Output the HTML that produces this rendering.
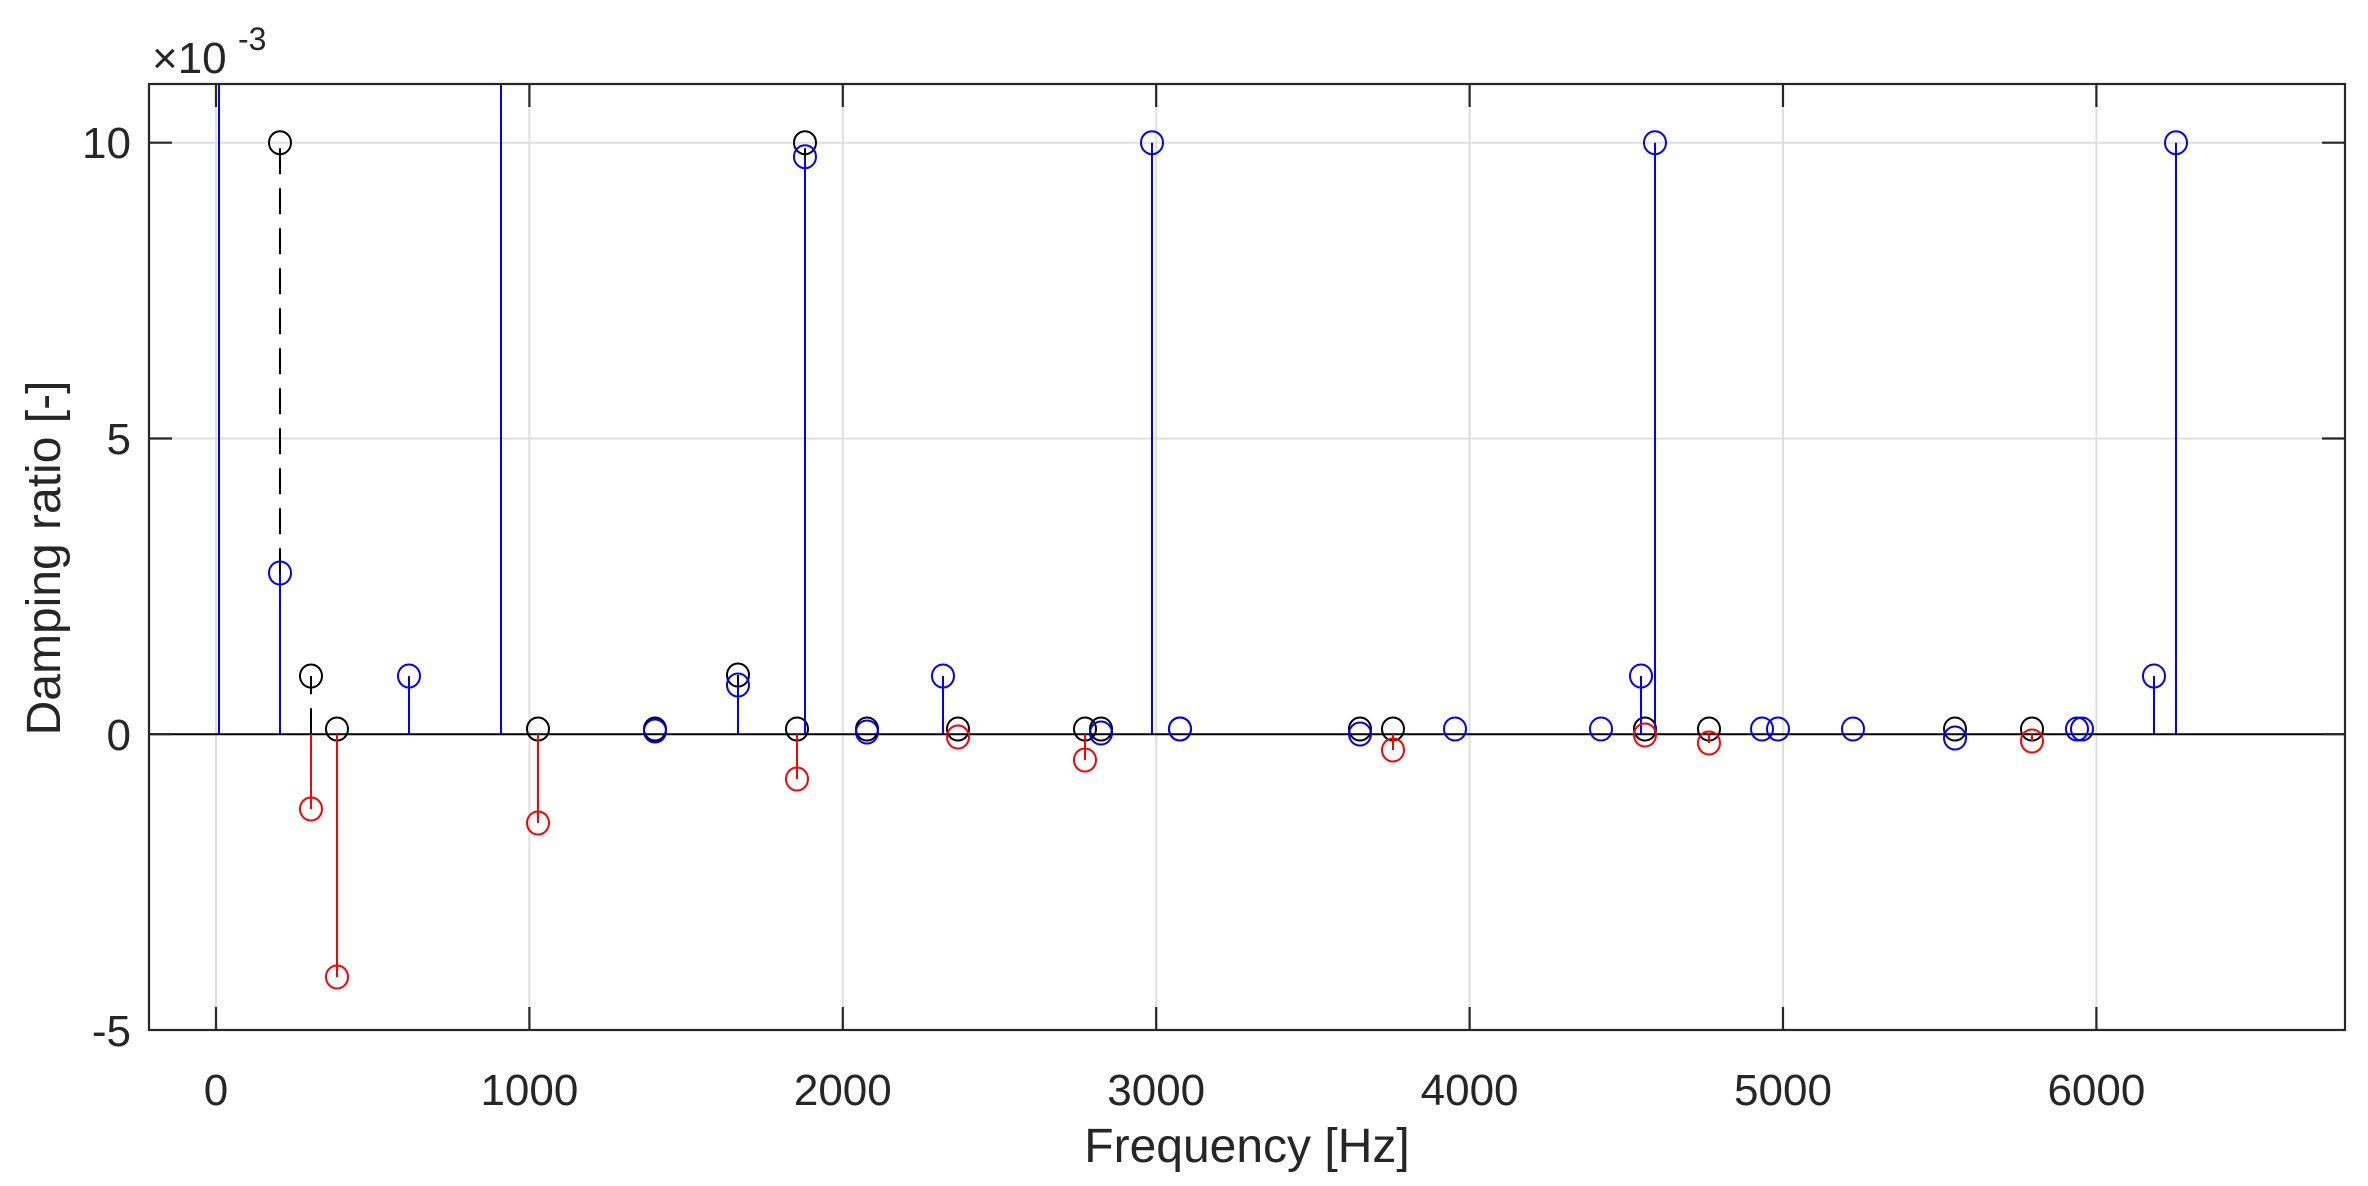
<!DOCTYPE html>
<html><head><meta charset="utf-8"><style>
html,body{margin:0;padding:0;background:#fff;}
svg{display:block;font-family:"Liberation Sans",Arial,sans-serif;}
</style></head><body>
<svg width="2368" height="1186" viewBox="0 0 2368 1186" xmlns="http://www.w3.org/2000/svg">
<defs><clipPath id="c"><rect x="149" y="84" width="2196" height="946"/></clipPath></defs>
<rect x="149" y="84" width="2196" height="946" fill="#fff"/>
<!-- grid -->
<g stroke="#dfdfdf" stroke-width="2">
<line x1="216" y1="84" x2="216" y2="1030"/><line x1="529.4" y1="84" x2="529.4" y2="1030"/>
<line x1="842.8" y1="84" x2="842.8" y2="1030"/><line x1="1156.2" y1="84" x2="1156.2" y2="1030"/>
<line x1="1469.6" y1="84" x2="1469.6" y2="1030"/><line x1="1783" y1="84" x2="1783" y2="1030"/>
<line x1="2096.4" y1="84" x2="2096.4" y2="1030"/>
<line x1="149" y1="142.7" x2="2345" y2="142.7"/><line x1="149" y1="438.5" x2="2345" y2="438.5"/>
</g>
<g clip-path="url(#c)" fill="none" stroke-width="2">
<!-- baseline -->
<line x1="149" y1="734.2" x2="2345" y2="734.2" stroke="#000"/>
<!-- black -->
<g stroke="#000">
<g stroke-dasharray="26 14">
<line x1="280" y1="734.2" x2="280" y2="142.7"/><line x1="311" y1="734.2" x2="311" y2="676"/>
<line x1="805" y1="734.2" x2="805" y2="142.7"/><line x1="738" y1="734.2" x2="738" y2="675"/>
</g>
<ellipse cx="280" cy="142.7" rx="11" ry="11.5"/><ellipse cx="311" cy="676" rx="11" ry="11.5"/>
<ellipse cx="337" cy="729" rx="11" ry="11.5"/><ellipse cx="538" cy="729" rx="11" ry="11.5"/>
<ellipse cx="655" cy="729" rx="11" ry="11.5"/><ellipse cx="738" cy="675" rx="11" ry="11.5"/>
<ellipse cx="797" cy="729" rx="11" ry="11.5"/><ellipse cx="805" cy="142.7" rx="11" ry="11.5"/>
<ellipse cx="867" cy="729" rx="11" ry="11.5"/><ellipse cx="958" cy="729" rx="11" ry="11.5"/>
<ellipse cx="1085" cy="729" rx="11" ry="11.5"/><ellipse cx="1101" cy="729" rx="11" ry="11.5"/>
<ellipse cx="1180" cy="729" rx="11" ry="11.5"/>
<ellipse cx="1360" cy="729" rx="11" ry="11.5"/><ellipse cx="1393" cy="729" rx="11" ry="11.5"/>
<ellipse cx="1645" cy="729" rx="11" ry="11.5"/><ellipse cx="1709" cy="729" rx="11" ry="11.5"/>
<ellipse cx="1955" cy="729" rx="11" ry="11.5"/><ellipse cx="2032" cy="729" rx="11" ry="11.5"/>
</g>
<!-- blue -->
<g stroke="#0000ff">
<line x1="219" y1="734.2" x2="219" y2="80"/><line x1="501" y1="734.2" x2="501" y2="80"/>
<line x1="280" y1="734.2" x2="280" y2="573"/><ellipse cx="280" cy="573" rx="11" ry="11.5"/>
<line x1="409" y1="734.2" x2="409" y2="676"/><ellipse cx="409" cy="676" rx="11" ry="11.5"/>
<ellipse cx="655" cy="731" rx="11" ry="11.5"/>
<line x1="738" y1="734.2" x2="738" y2="685"/><ellipse cx="738" cy="685" rx="11" ry="11.5"/>
<line x1="805" y1="734.2" x2="805" y2="156.7"/><ellipse cx="805" cy="156.7" rx="11" ry="11.5"/>
<ellipse cx="867" cy="732" rx="11" ry="11.5"/>
<line x1="943" y1="734.2" x2="943" y2="676"/><ellipse cx="943" cy="676" rx="11" ry="11.5"/>
<ellipse cx="1101" cy="733" rx="11" ry="11.5"/>
<line x1="1152" y1="734.2" x2="1152" y2="142.7"/><ellipse cx="1152" cy="142.7" rx="11" ry="11.5"/>
<ellipse cx="1180" cy="729" rx="11" ry="11.5"/><ellipse cx="1360" cy="734" rx="11" ry="11.5"/>
<ellipse cx="1455" cy="729" rx="11" ry="11.5"/><ellipse cx="1601" cy="729" rx="11" ry="11.5"/>
<line x1="1641" y1="734.2" x2="1641" y2="676"/><ellipse cx="1641" cy="676" rx="11" ry="11.5"/>
<line x1="1655" y1="734.2" x2="1655" y2="142.7"/><ellipse cx="1655" cy="142.7" rx="11" ry="11.5"/>
<ellipse cx="1762" cy="729" rx="11" ry="11.5"/><ellipse cx="1778" cy="729" rx="11" ry="11.5"/>
<ellipse cx="1853" cy="729" rx="11" ry="11.5"/><ellipse cx="1955" cy="738" rx="11" ry="11.5"/>
<ellipse cx="2077" cy="729" rx="11" ry="11.5"/><ellipse cx="2082" cy="729" rx="11" ry="11.5"/>
<line x1="2154" y1="734.2" x2="2154" y2="676"/><ellipse cx="2154" cy="676" rx="11" ry="11.5"/>
<line x1="2176" y1="734.2" x2="2176" y2="142.7"/><ellipse cx="2176" cy="142.7" rx="11" ry="11.5"/>
</g>
<!-- red -->
<g stroke="#ff0000">
<line x1="311" y1="734.2" x2="311" y2="809"/><ellipse cx="311" cy="809" rx="11" ry="11.5"/>
<line x1="337" y1="734.2" x2="337" y2="977"/><ellipse cx="337" cy="977" rx="11" ry="11.5"/>
<line x1="538" y1="734.2" x2="538" y2="823"/><ellipse cx="538" cy="823" rx="11" ry="11.5"/>
<line x1="797" y1="734.2" x2="797" y2="779"/><ellipse cx="797" cy="779" rx="11" ry="11.5"/>
<ellipse cx="958" cy="737" rx="11" ry="11.5"/>
<line x1="1085" y1="734.2" x2="1085" y2="760"/><ellipse cx="1085" cy="760" rx="11" ry="11.5"/>
<line x1="1393" y1="734.2" x2="1393" y2="750"/><ellipse cx="1393" cy="750" rx="11" ry="11.5"/>
<ellipse cx="1645" cy="735" rx="11" ry="11.5"/>
<line x1="1709" y1="734.2" x2="1709" y2="743"/><ellipse cx="1709" cy="743" rx="11" ry="11.5"/>
<line x1="2032" y1="734.2" x2="2032" y2="741"/><ellipse cx="2032" cy="741" rx="11" ry="11.5"/>
</g>
</g>
<!-- axes box and ticks -->
<g stroke="#262626" stroke-width="2.2" fill="none">
<rect x="149" y="84" width="2196" height="946"/>
<path d="M216 1030v-23M529.4 1030v-23M842.8 1030v-23M1156.2 1030v-23M1469.6 1030v-23M1783 1030v-23M2096.4 1030v-23
M216 84v23M529.4 84v23M842.8 84v23M1156.2 84v23M1469.6 84v23M1783 84v23M2096.4 84v23
M149 142.7h23M149 438.5h23M149 734.2h23M2345 142.7h-23M2345 438.5h-23M2345 734.2h-23"/>
</g>
<g fill="#262626" font-size="44">
<g text-anchor="end">
<text x="131" y="158">10</text><text x="131" y="454">5</text><text x="131" y="750">0</text><text x="131" y="1046">-5</text>
</g>
<g text-anchor="middle">
<text x="216" y="1105">0</text><text x="529.4" y="1105">1000</text><text x="842.8" y="1105">2000</text>
<text x="1156.2" y="1105">3000</text><text x="1469.6" y="1105">4000</text><text x="1783" y="1105">5000</text>
<text x="2096.4" y="1105">6000</text>
</g>
<text x="152" y="73">×10</text><text x="238" y="50" font-size="32">-3</text>
<text x="1247" y="1162" text-anchor="middle" font-size="48">Frequency [Hz]</text>
<text transform="translate(60,558) rotate(-90)" text-anchor="middle" font-size="48">Damping ratio [-]</text>
</g>
</svg>
</body></html>
